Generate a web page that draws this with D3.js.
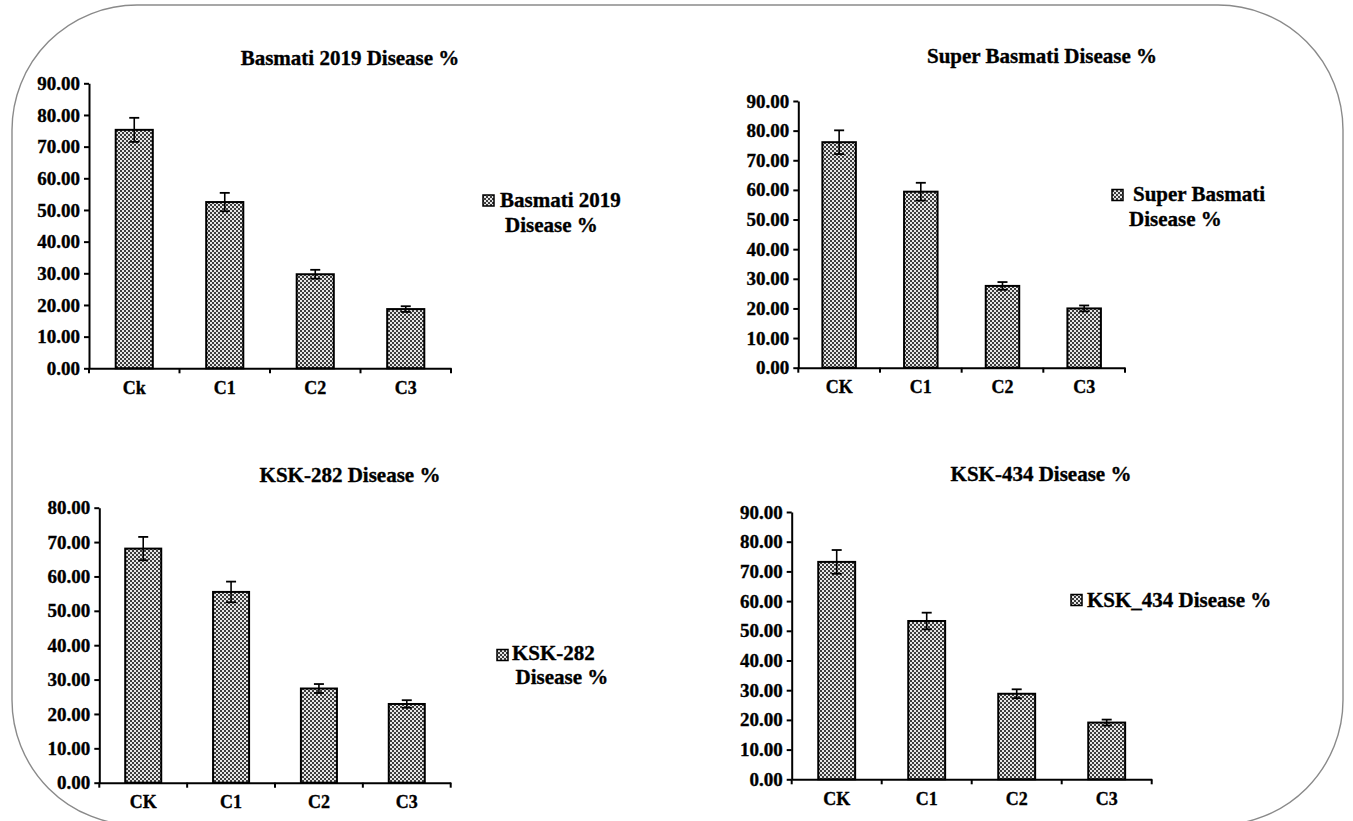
<!DOCTYPE html>
<html>
<head>
<meta charset="utf-8">
<script src="https://cdn.jsdelivr.net/npm/d3@7"></script>
<style>
  html, body { margin: 0; padding: 0; background: #fff; }
  svg { display: block; }
  svg text { font-weight: bold; fill: #000; stroke: #000; stroke-width: 0.35px; }
</style>
</head>
<body>
<svg id="chart" width="1353" height="821"></svg>
<script>
// Treatment categories
const categoriesLower = ["Ck", "C1", "C2", "C3"];
const categoriesUpper = ["CK", "C1", "C2", "C3"];

// Disease % per variety (mean) and error bar half-widths
const basmati2019 = [75.3, 52.5, 29.7, 18.7];
const basmati2019Err = [3.8, 2.9, 1.4, 0.9];

const superBasmati = [76.1, 59.4, 27.6, 20.0];
const superBasmatiErr = [4.0, 3.0, 1.3, 1.0];

const ksk282 = [68.1, 55.5, 27.4, 22.9];
const ksk282Err = [3.4, 3.0, 1.3, 1.1];

const ksk434 = [73.2, 53.3, 28.8, 19.1];
const ksk434Err = [4.0, 2.8, 1.5, 1.0];

// Axis maxima and tick steps
const yMax = [90, 90, 80, 90];
const yStep = 10;

// Titles and legend lines
const titles = ["Basmati 2019 Disease %", "Super Basmati Disease %", "KSK-282 Disease %", "KSK-434 Disease %"];
const legendLines = [
  ["Basmati 2019", "Disease %"],
  ["Super Basmati", "Disease %"],
  ["KSK-282", "Disease %"],
  ["KSK_434 Disease %"]
];

const FONT = "'Liberation Serif', 'Times New Roman', Times, serif";
const svg = d3.select("#chart");

// Rounded frame around the whole figure
svg.append("rect")
  .attr("x", 12).attr("y", 5)
  .attr("width", 1331).attr("height", 820)
  .attr("rx", 125).attr("ry", 125)
  .attr("fill", "none")
  .attr("stroke", "#8a8a8a")
  .attr("stroke-width", 1.4);

// Checker fill used for bars and legend swatches
const defs = svg.append("defs");
const pat = defs.append("pattern")
  .attr("id", "checker")
  .attr("width", 4).attr("height", 4)
  .attr("patternUnits", "userSpaceOnUse");
pat.append("rect").attr("width", 4).attr("height", 4).attr("fill", "#3c3c3c");
pat.append("rect").attr("x", 0).attr("y", 0).attr("width", 2).attr("height", 2).attr("fill", "#e6e6e6");
pat.append("rect").attr("x", 2).attr("y", 2).attr("width", 2).attr("height", 2).attr("fill", "#e6e6e6");

// Panel layout (plot area in page pixels)
const panels = [
  { cats: categoriesLower, vals: basmati2019, errs: basmati2019Err, max: yMax[0],
    x0: 89, x1: 451, yTop: 83.3, yBot: 368.3,
    title: titles[0], tx: 350, ty: 65,
    legend: legendLines[0], sw: [483, 195], lx: [500, 505], ly: [207, 232] },
  { cats: categoriesUpper, vals: superBasmati, errs: superBasmatiErr, max: yMax[1],
    x0: 798.3, x1: 1125, yTop: 101, yBot: 367.7,
    title: titles[1], tx: 1042, ty: 63,
    legend: legendLines[1], sw: [1112, 189.5], lx: [1133, 1129], ly: [201, 226] },
  { cats: categoriesUpper, vals: ksk282, errs: ksk282Err, max: yMax[2],
    x0: 99.3, x1: 450.7, yTop: 507.7, yBot: 782.7,
    title: titles[2], tx: 350, ty: 481.5,
    legend: legendLines[2], sw: [497, 649.5], lx: [512, 515.5], ly: [659.5, 683.5] },
  { cats: categoriesUpper, vals: ksk434, errs: ksk434Err, max: yMax[3],
    x0: 791.7, x1: 1151.7, yTop: 512, yBot: 779.3,
    title: titles[3], tx: 1041, ty: 481,
    legend: legendLines[3], sw: [1071, 594.5], lx: [1087], ly: [607] }
];

panels.forEach(p => {
  const g = svg.append("g");

  const x = d3.scaleBand()
    .domain(p.cats)
    .range([p.x0, p.x1])
    .paddingInner(0.59)
    .paddingOuter(0.295);

  const y = d3.scaleLinear()
    .domain([0, p.max])
    .range([p.yBot, p.yTop]);

  // Bars
  g.selectAll("rect.bar")
    .data(p.vals)
    .join("rect")
    .attr("class", "bar")
    .attr("x", (d, i) => x(p.cats[i]))
    .attr("width", x.bandwidth())
    .attr("y", d => y(d))
    .attr("height", d => y(0) - y(d))
    .attr("fill", "url(#checker)")
    .attr("stroke", "#000")
    .attr("stroke-width", 2);

  // Error bars
  const capW = 10;
  const cx = i => x(p.cats[i]) + x.bandwidth() / 2;
  const eb = g.selectAll("g.err")
    .data(p.vals)
    .join("g")
    .attr("class", "err");
  eb.append("line")
    .attr("x1", (d, i) => cx(i)).attr("x2", (d, i) => cx(i))
    .attr("y1", (d, i) => y(d + p.errs[i]))
    .attr("y2", (d, i) => y(d - p.errs[i]))
    .attr("stroke", "#000").attr("stroke-width", 1.6);
  eb.append("line")
    .attr("x1", (d, i) => cx(i) - capW / 2).attr("x2", (d, i) => cx(i) + capW / 2)
    .attr("y1", (d, i) => y(d + p.errs[i]))
    .attr("y2", (d, i) => y(d + p.errs[i]))
    .attr("stroke", "#000").attr("stroke-width", 1.8);
  eb.append("line")
    .attr("x1", (d, i) => cx(i) - capW / 2).attr("x2", (d, i) => cx(i) + capW / 2)
    .attr("y1", (d, i) => y(d - p.errs[i]))
    .attr("y2", (d, i) => y(d - p.errs[i]))
    .attr("stroke", "#000").attr("stroke-width", 1.8);

  // Y axis
  const yAxis = d3.axisLeft(y)
    .tickValues(d3.range(0, p.max + 0.001, yStep))
    .tickFormat(d3.format(".2f"))
    .tickSize(5)
    .tickPadding(4)
    .tickSizeOuter(0);
  const ya = g.append("g")
    .attr("transform", `translate(${p.x0},0)`)
    .call(yAxis)
    .attr("font-family", FONT)
    .attr("font-size", 19);
  ya.select(".domain").attr("stroke", "#000").attr("stroke-width", 2);
  ya.selectAll(".tick line").attr("stroke", "#000").attr("stroke-width", 2);
  ya.selectAll(".tick text").attr("fill", "#000");

  // X axis with labels centred under bars, ticks at category boundaries
  const xAxis = d3.axisBottom(x).tickSize(0).tickPadding(13).tickSizeOuter(0);
  const xa = g.append("g")
    .attr("transform", `translate(0,${p.yBot})`)
    .call(xAxis)
    .attr("font-family", FONT)
    .attr("font-size", 18);
  xa.select(".domain").attr("stroke", "#000").attr("stroke-width", 2);
  xa.selectAll(".tick text").attr("fill", "#000");
  const bounds = d3.range(p.cats.length + 1).map(i => x.range()[0] + i * x.step());
  g.selectAll("line.xtick")
    .data(bounds)
    .join("line")
    .attr("class", "xtick")
    .attr("x1", d => d).attr("x2", d => d)
    .attr("y1", p.yBot).attr("y2", p.yBot + 5)
    .attr("stroke", "#000").attr("stroke-width", 2);

  // Title
  g.append("text")
    .attr("x", p.tx).attr("y", p.ty)
    .attr("text-anchor", "middle")
    .attr("font-family", FONT)
    .attr("font-size", 21)
    .text(p.title);

  // Legend swatch and label
  g.append("rect")
    .attr("x", p.sw[0]).attr("y", p.sw[1])
    .attr("width", 11).attr("height", 11)
    .attr("fill", "url(#checker)")
    .attr("stroke", "#000").attr("stroke-width", 1.5);
  p.legend.forEach((line, i) => {
    g.append("text")
      .attr("x", p.lx[i]).attr("y", p.ly[i])
      .attr("font-family", FONT)
      .attr("font-size", 21)
      .text(line);
  });
});
</script>
</body>
</html>
